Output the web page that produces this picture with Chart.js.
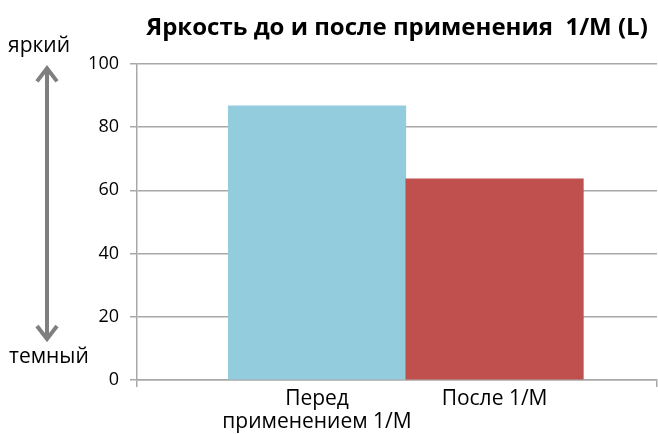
<!DOCTYPE html>
<html>
<head>
<meta charset="utf-8">
<script src="https://cdn.jsdelivr.net/npm/chart.js@4/dist/chart.umd.min.js"></script>
<style>
  html, body { margin: 0; padding: 0; background: #fff; }
  #wrap { width: 658px; height: 434px; }
</style>
</head>
<body>
<div id="wrap"><canvas id="chart"></canvas></div>
<script>
// dados do gráfico
const categories = [['Перед', 'применением 1/M'], 'После 1/M'];
const brightness = [86.7, 63.6];
const barColors = ['#93CDDD', '#C0504D'];
const yTicks = [0, 20, 40, 60, 80, 100];
const scaleTop = 'яркий';
const scaleBottom = 'темный';

const FONT = '"Open Sans", "Noto Sans", sans-serif';
const GRID = '#a8a8a8';

// seta dupla com "яркий" / "темный" à esquerda
const brightnessArrow = {
    id: 'brightnessArrow',
    afterDraw(chart) {
        const ctx = chart.ctx;
        const y = chart.scales.y;
        const x = 47;
        const top = y.getPixelForValue(99.5);
        const bottom = y.getPixelForValue(12);
        ctx.save();
        ctx.strokeStyle = '#7f7f7f';
        ctx.lineWidth = 4;
        ctx.lineCap = 'butt';
        ctx.beginPath();
        ctx.moveTo(x, top + 2);
        ctx.lineTo(x, bottom - 2);
        ctx.stroke();
        ctx.lineJoin = 'miter';
        ctx.beginPath();
        ctx.moveTo(x - 10, top + 16);
        ctx.lineTo(x, top + 3);
        ctx.lineTo(x + 10, top + 16);
        ctx.moveTo(x - 10, bottom - 16);
        ctx.lineTo(x, bottom - 3);
        ctx.lineTo(x + 10, bottom - 16);
        ctx.stroke();

        ctx.fillStyle = '#000';
        ctx.font = '21px ' + FONT;
        ctx.textAlign = 'left';
        ctx.textBaseline = 'middle';
        ctx.fillText(scaleTop, 8, 46);
        ctx.fillText(scaleBottom, 9, 357);
        ctx.restore();
    }
};

const ctx = document.getElementById('chart').getContext('2d');
const chart = new Chart(ctx, {
    type: 'bar',
    data: {
        datasets: [{
            data: brightness.map((v, i) => ({ x: i, y: v })),
            backgroundColor: barColors,
            borderWidth: 0,
            barThickness: 'flex',
            barPercentage: 1,
            categoryPercentage: 1
        }]
    },
    options: {
        responsive: true,
        maintainAspectRatio: false,
        animation: false,
        layout: { padding: { left: 80, right: 1, top: 0, bottom: 0 } },
        plugins: {
            legend: { display: false },
            tooltip: { enabled: false },
            title: {
                display: true,
                text: 'Яркость до и после применения  1/M (L)',
                fullSize: false,
                color: '#000',
                font: { family: FONT, size: 24, weight: 'bold' },
                padding: { top: 14, bottom: 21 }
            }
        },
        scales: {
            x: {
                type: 'linear',
                offset: false,
                min: -1.014,
                max: 1.915,
                afterBuildTicks(scale) {
                    scale.ticks = [scale.min, 0, 1, scale.max].map(v => ({ value: v }));
                },
                afterFit(scale) { scale.height = 54; },
                border: { display: true, color: GRID, width: 1.5 },
                grid: {
                    offset: false,
                    drawOnChartArea: false,
                    drawTicks: true,
                    tickLength: 7,
                    lineWidth: 1.5,
                    tickColor: c => (c.tick && Number.isInteger(c.tick.value)) ? 'rgba(0,0,0,0)' : GRID
                },
                ticks: {
                    autoSkip: false,
                    maxRotation: 0,
                    padding: 0,
                    color: '#000',
                    font: { family: FONT, size: 21, lineHeight: 1.1 },
                    callback: v => (Number.isInteger(v) && categories[v] !== undefined) ? categories[v] : ''
                }
            },
            y: {
                min: 0,
                max: 100,
                afterBuildTicks(scale) {
                    scale.ticks = yTicks.map(v => ({ value: v }));
                },
                afterFit(scale) { scale.width = 57; },
                border: { display: true, color: GRID, width: 1.5 },
                grid: {
                    color: GRID,
                    lineWidth: 1.5,
                    tickLength: 7
                },
                ticks: {
                    padding: 11,
                    color: '#000',
                    font: { family: FONT, size: 18 }
                }
            }
        }
    },
    plugins: [brightnessArrow]
});
</script>
</body>
</html>
